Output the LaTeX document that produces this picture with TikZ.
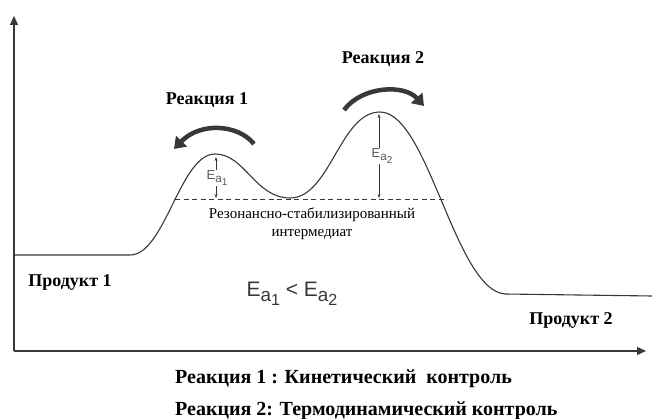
\documentclass[tikz,border=0pt]{standalone}
\usepackage{fontspec}
\setmainfont{Liberation Serif}
\setsansfont{Liberation Sans}
\usetikzlibrary{arrows.meta}
\definecolor{ink}{gray}{0.22}
\definecolor{eatext}{gray}{0.35}
\newcommand\Easub[1]{E\raisebox{-.45ex}{\scalebox{.9}{a\raisebox{-.4ex}{\scalebox{.85}{#1}}}}}
\tikzset{
 axis/.style={line width=1.3pt,ink,-{Triangle[width=8pt,length=9pt]}},
 turn/.style={line width=4.5pt,ink,-{Triangle[width=15pt,length=11pt]}},
 gap/.style={ink,line width=.6pt,{Stealth[length=4pt]}-{Stealth[length=4pt]}},
 lbl/.style={font=\bfseries\fontsize{18}{20}\selectfont},
 note/.style={font=\bfseries\fontsize{20}{22}\selectfont,anchor=base west,inner sep=0pt},
 ealbl/.style={font=\sffamily\fontsize{13}{14}\selectfont,text=eatext,fill=white,inner sep=.5pt}
}
\begin{document}
\begin{tikzpicture}[x=1pt,y=-1pt]
 \useasboundingbox (0,0) rectangle (652,419);
 \coordinate (o) at (14,351);
 \coordinate (ytop) at (14,16);
 \coordinate (xend) at (646,351);
 \draw[axis] (o) -- (ytop);
 \draw[axis] (o) -- (xend);
 % energy profile
 \draw[ink,line width=1.1pt] (14,255) -- (130,255) .. controls (165,255) and (180,154) .. (215,154)
  .. controls (245,154) and (255,198) .. (290,198) .. controls (330,198) and (340,112) .. (380,112)
  .. controls (428,112) and (455,290) .. (505,294) -- (652,296);
 \draw[ink,dashed,line width=.8pt,dash pattern=on 5pt off 3.5pt] (175,199) -- (447,199);
 \coordinate (p1) at (216,157); \coordinate (b1) at (216,198);
 \coordinate (p2) at (379,114); \coordinate (b2) at (379,198);
 \draw[gap] (p1) -- (b1);
 \draw[gap] (p2) -- (b2);
 \node[ealbl] (ea1) at (217,178) {\Easub{1}};
 \node[ealbl] (ea2) at (382,156) {\Easub{2}};
 % reaction arrows
 \coordinate (r1s) at (254,144); \coordinate (r1e) at (174,149);
 \coordinate (r2s) at (344,110); \coordinate (r2e) at (424,106);
 \draw[turn] (r1s) .. controls (238,124) and (200,122) .. (r1e);
 \draw[turn] (r2s) .. controls (362,86) and (404,84) .. (r2e);
 \node[lbl] (rx1) at (207,100) {Реакция 1};
 \node[lbl] (rx2) at (383,59) {Реакция 2};
 \node[lbl] (pr1) at (70,283) {Продукт 1};
 \node[lbl] (pr2) at (571,320) {Продукт 2};
 \node[font=\fontsize{15}{18}\selectfont,align=center,inner sep=0pt] (mid) at (312,224)
  {Резонансно-стабилизированный\\интермедиат};
 \node[font=\sffamily\fontsize{21}{23}\selectfont,text=ink] (cmp) at (292,294)
  {\Easub{1} < \Easub{2}};
 \node[note] (k1) at (175,383) {Реакция 1 : Кинетический~ контроль};
 \node[note] (k2) at (175,415) {Реакция 2: Термодинамический контроль};
\end{tikzpicture}
\end{document}
